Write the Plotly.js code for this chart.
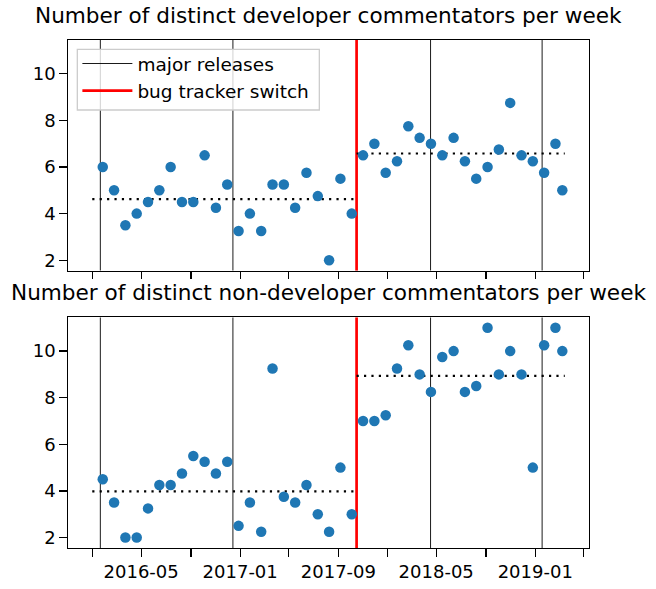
<!DOCTYPE html>
<html>
<head>
<meta charset="utf-8">
<script src="https://cdn.plot.ly/plotly-3.0.1.min.js"></script>
<style>html,body{margin:0;padding:0;background:#fff;}#chart{width:656px;height:589px;}</style>
</head>
<body>
<div id="chart"></div>
<script>
// 4-week bins (dates of each bin)
var dates = ['2016-01-27','2016-02-24','2016-03-23','2016-04-20','2016-05-18','2016-06-15','2016-07-13','2016-08-10','2016-09-07','2016-10-05','2016-11-02','2016-11-30','2016-12-28','2017-01-25','2017-02-22','2017-03-22','2017-04-19','2017-05-17','2017-06-14','2017-07-12','2017-08-09','2017-09-06','2017-10-04','2017-11-01','2017-11-29','2017-12-27','2018-01-24','2018-02-21','2018-03-21','2018-04-18','2018-05-16','2018-06-13','2018-07-11','2018-08-08','2018-09-05','2018-10-03','2018-10-31','2018-11-28','2018-12-26','2019-01-23','2019-02-20','2019-03-09'];
var developers = [6,5,3.5,4,4.5,5,6,4.5,4.5,6.5,4.25,5.25,3.25,4,3.25,5.25,5.25,4.25,5.75,4.75,2,5.5,4,6.5,7,5.75,6.25,7.75,7.25,7,6.5,7.25,6.25,5.5,6,6.75,8.75,6.5,6.25,5.75,7,5];
var nonDevelopers = [4.5,3.5,2,2,3.25,4.25,4.25,4.75,5.5,5.25,4.75,5.25,2.5,3.5,2.25,9.25,3.75,3.5,4.25,3,2.25,5,3,7,7,7.25,9.25,10.25,9,8.25,9.75,10,8.25,8.5,11,9,10,9,5,10.25,11,10];
var majorReleases = ['2016-01-21','2016-12-14','2018-04-17','2019-01-18'];
var trackerSwitch = '2017-10-16';
var meanStart = '2016-01-01';
var meanEnd = '2019-03-15';
var tickDates = ['2016-01-01','2016-05-01','2016-09-01','2017-01-01','2017-05-01','2017-09-01','2018-01-01','2018-05-01','2018-09-01','2019-01-01','2019-05-01'];
var tickLabels = ['','2016-05','','2017-01','','2017-09','','2018-05','','2019-01',''];
var titles = ['Number of distinct developer commentators per week','Number of distinct non-developer commentators per week'];
var yRange = [1.55, 11.45];

function mean(a){ var s=0; for (var i=0;i<a.length;i++) s+=a[i]; return s/a.length; }

var switchTime = new Date(trackerSwitch).getTime();
function split(vals){
  var pre=[], post=[];
  for (var i=0;i<dates.length;i++){
    if (new Date(dates[i]).getTime() < switchTime) pre.push(vals[i]); else post.push(vals[i]);
  }
  return [mean(pre), mean(post)];
}

var traces = [];
var series = [developers, nonDevelopers];
['', '2'].forEach(function(suf, k){
  var xa = 'x'+suf, ya = 'y'+suf;
  var rx=[], ry=[];
  majorReleases.forEach(function(d){ rx.push(d,d,null); ry.push(yRange[0],yRange[1],null); });
  traces.push({x:rx, y:ry, xaxis:xa, yaxis:ya, mode:'lines', line:{color:'#000', width:0.9},
    name:'major releases', showlegend:k===0, hoverinfo:'skip'});
  traces.push({x:[trackerSwitch,trackerSwitch], y:yRange, xaxis:xa, yaxis:ya, mode:'lines',
    line:{color:'#ff0000', width:2.7}, name:'bug tracker switch', showlegend:k===0, hoverinfo:'skip'});
  var m = split(series[k]);
  traces.push({x:[meanStart, trackerSwitch, null, trackerSwitch, meanEnd], y:[m[0], m[0], null, m[1], m[1]],
    xaxis:xa, yaxis:ya, mode:'lines', line:{color:'#000', width:2.2, dash:'2.2px,5.2px'}, showlegend:false, hoverinfo:'skip'});
  traces.push({x:dates, y:series[k], xaxis:xa, yaxis:ya, mode:'markers', type:'scatter',
    marker:{color:'#1f77b4', size:10.5}, showlegend:false});
});

var font = {family:'DejaVu Sans', size:18, color:'#000'};
function xaxisDef(showLabels, anchor){
  return {type:'date', range:['2015-11-02','2019-05-14'], tickmode:'array', tickvals:tickDates,
    ticktext: showLabels ? tickLabels : tickDates.map(function(){return '';}),
    ticks:'outside', ticklen:7.5, tickwidth:1.3, tickcolor:'#000', showgrid:false, zeroline:false,
    showline:true, mirror:true, linecolor:'#000', linewidth:1.3, anchor:anchor, tickfont:font};
}
function yaxisDef(domain, anchor){
  return {domain:domain, range:yRange, tickvals:[2,4,6,8,10], ticks:'outside', ticklen:7.5, tickwidth:1.3,
    tickcolor:'#000', showgrid:false, zeroline:false, showline:true, mirror:true, linecolor:'#000',
    linewidth:1.3, anchor:anchor, tickfont:font};
}

var layout = {
  width:656, height:589,
  margin:{l:68, r:67, t:40, b:41, pad:0},
  paper_bgcolor:'#fff', plot_bgcolor:'#fff',
  font:font,
  showlegend:true,
  legend:{x:0.018, y:0.9902, xanchor:'left', yanchor:'top', bgcolor:'rgba(0,0,0,0)',
    bordercolor:'rgba(0,0,0,0)', borderwidth:0, font:{family:'DejaVu Sans', size:18.5, color:'#000'},
    itemwidth:50},
  shapes:[
    // legend frame
    {type:'rect', xref:'paper', yref:'paper', x0:0.0179, x1:0.4824, y0:0.8622, y1:0.9817,
      line:{color:'#cccccc', width:1.3}, fillcolor:'rgba(255,255,255,0.8)', layer:'above'}
  ],
  xaxis: xaxisDef(false, 'y'),
  yaxis: yaxisDef([0.5459, 1], 'x'),
  xaxis2: Object.assign(xaxisDef(true, 'y2'), {matches:'x'}),
  yaxis2: yaxisDef([0, 0.4541], 'x2'),
  annotations:[
    {text:titles[0], xref:'paper', yref:'paper', x:0.5, y:1, xanchor:'center', yanchor:'bottom', yshift:10,
      showarrow:false, font:{family:'DejaVu Sans', size:21.6, color:'#000'}},
    {text:titles[1], xref:'paper', yref:'paper', x:0.5, y:0.4541, xanchor:'center', yanchor:'bottom', yshift:10.5,
      showarrow:false, font:{family:'DejaVu Sans', size:21.6, color:'#000'}}
  ]
};

Plotly.newPlot('chart', traces, layout, {staticPlot:true, displayModeBar:false});
</script>
</body>
</html>
